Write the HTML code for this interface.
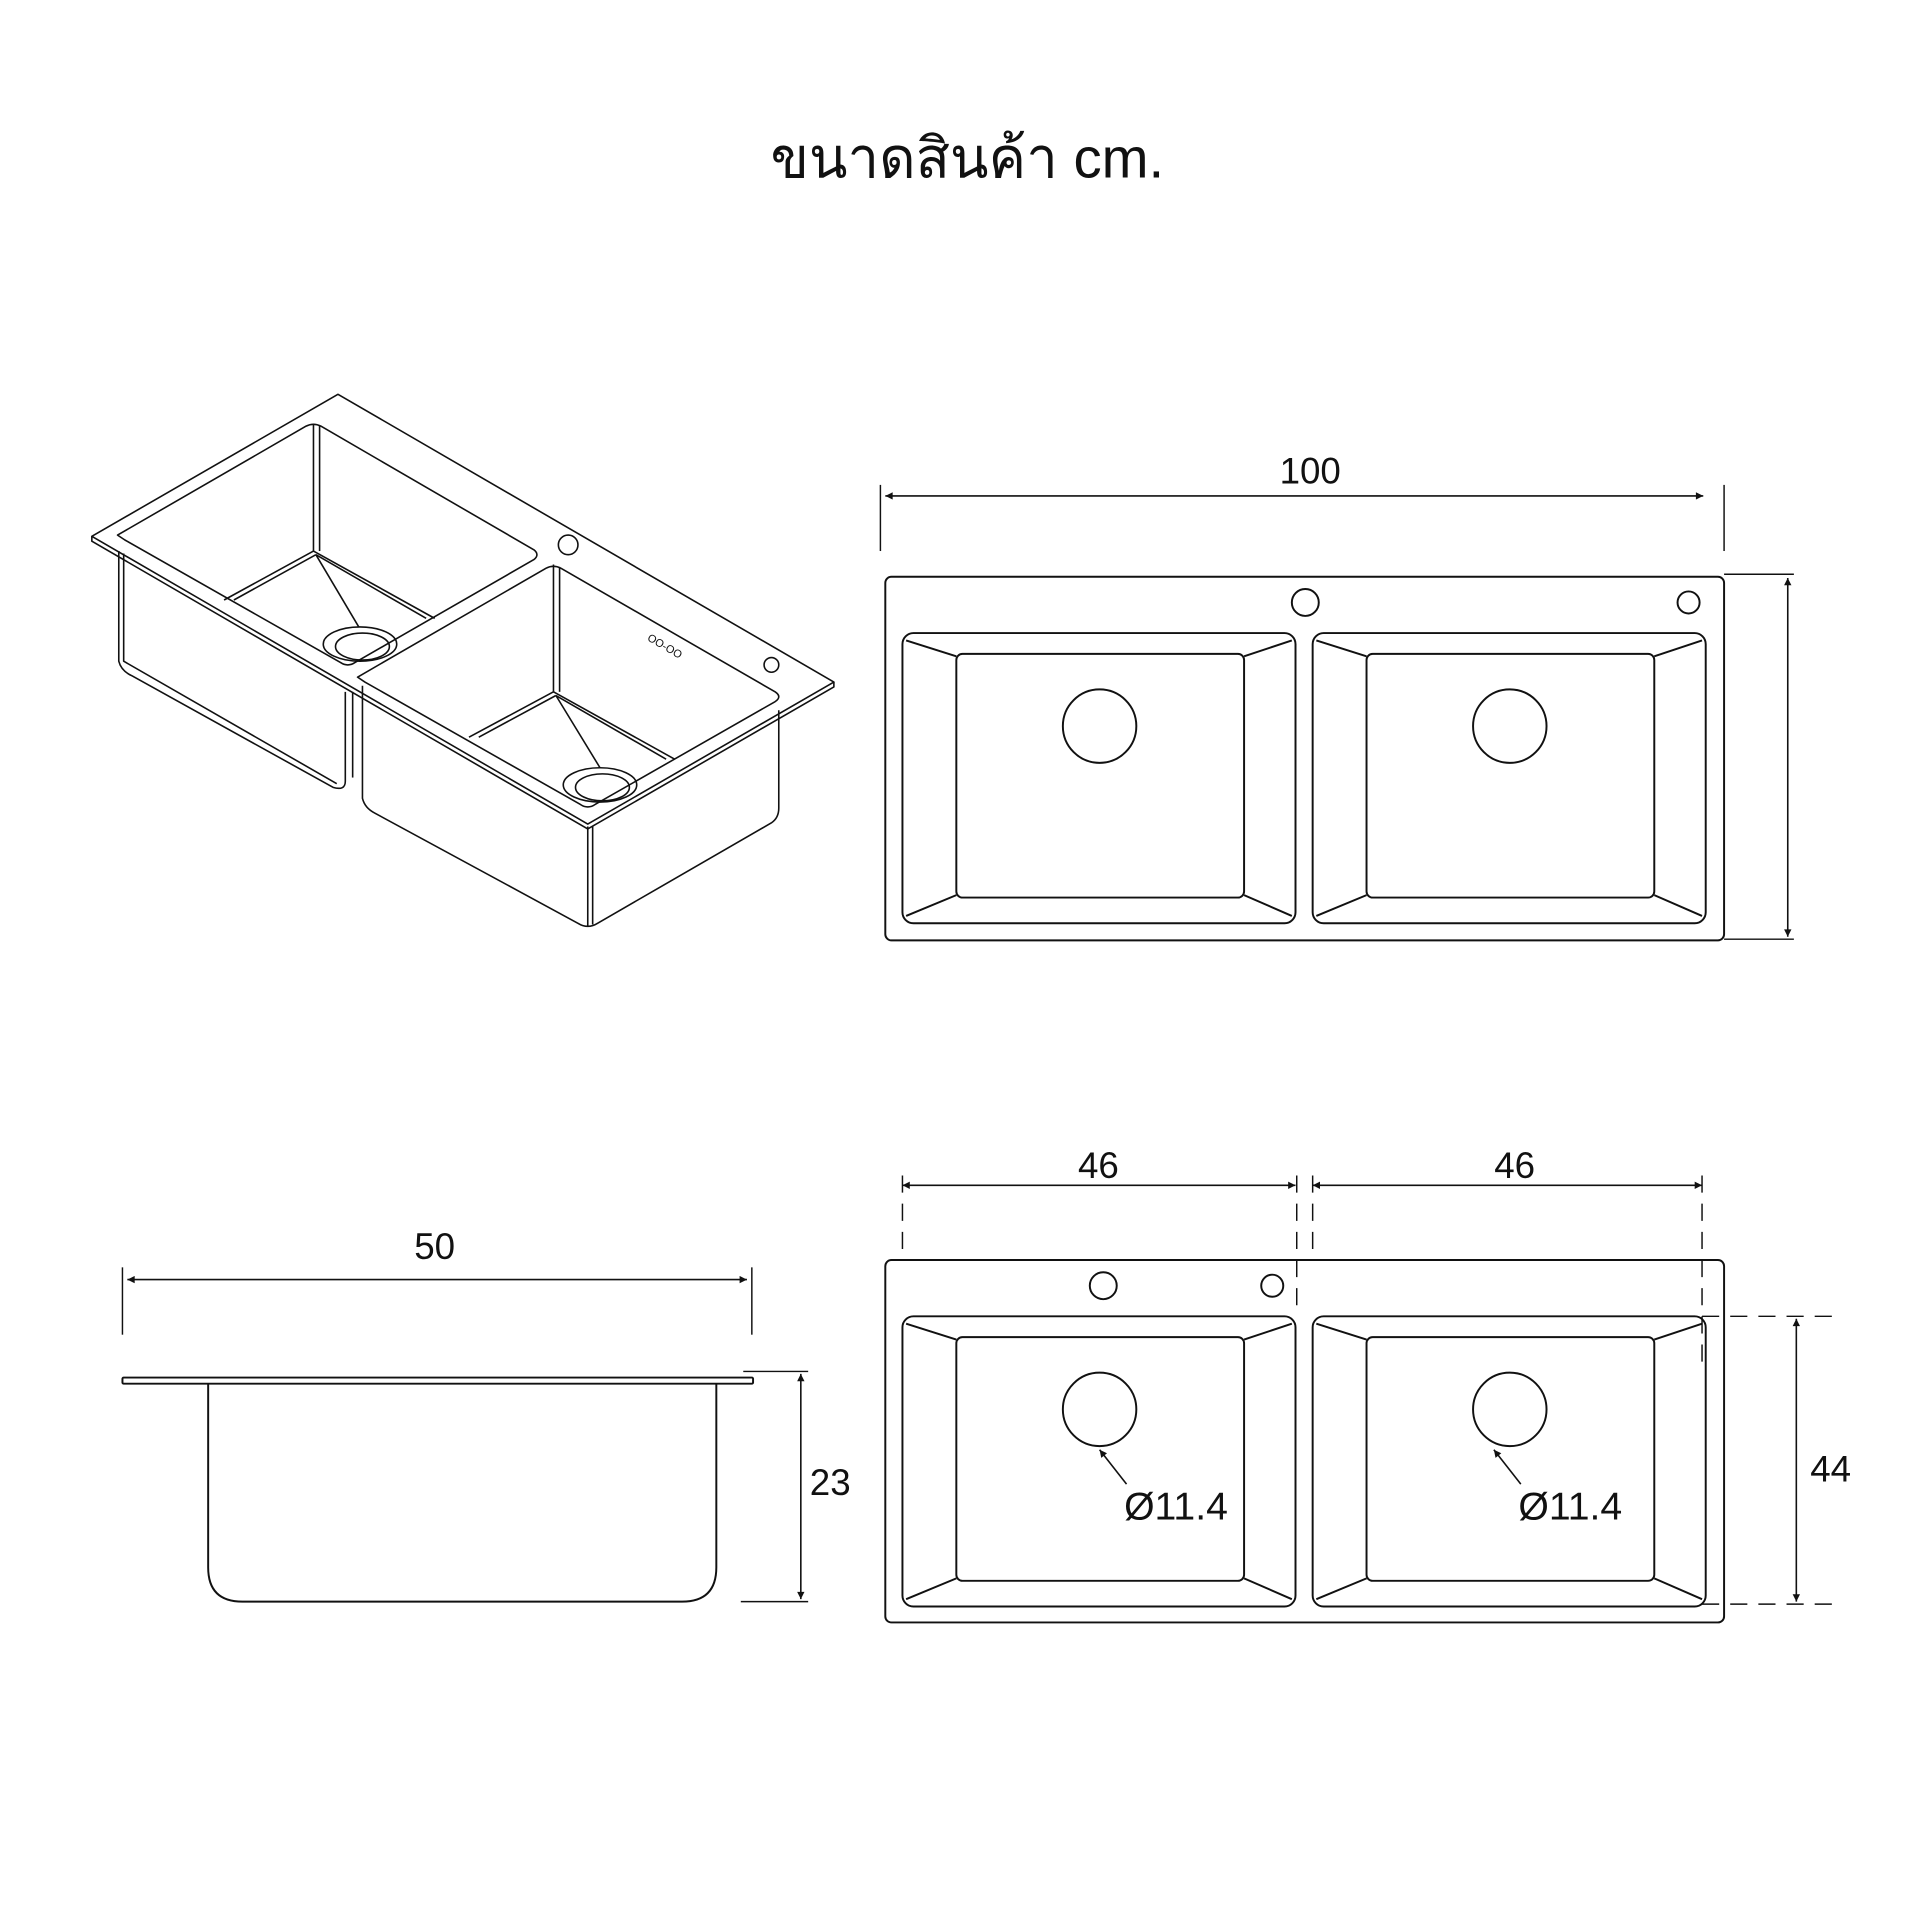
<!DOCTYPE html>
<html><head><meta charset="utf-8"><style>
html,body{margin:0;padding:0;background:#fff;}
svg{display:block;}
text{font-family:"Liberation Sans","DejaVu Sans",sans-serif;fill:#111;}
</style></head><body>
<svg width="1920" height="1920" viewBox="0 0 1568 1568" xmlns="http://www.w3.org/2000/svg">
<defs>
<marker id="a" viewBox="0 0 10 10" refX="10" refY="5" markerWidth="12" markerHeight="6" orient="auto-start-reverse" markerUnits="userSpaceOnUse"><path d="M0,0 L10,5 L0,10 z" fill="#111"/></marker>
<g id="bowl" fill="none" stroke="#111" stroke-width="1.6">
<rect x="0" y="0" width="321" height="237" rx="9"/>
<rect x="44" y="17" width="235" height="199" rx="5"/>
<line x1="3" y1="6" x2="44" y2="19"/><line x1="318" y1="6" x2="279" y2="19"/>
<line x1="3" y1="231" x2="44" y2="214"/><line x1="318" y1="231" x2="279" y2="214"/>
<ellipse cx="161" cy="76" rx="30" ry="30"/>
</g>
</defs>
<text x="790" y="145" font-size="46" text-anchor="middle" font-family="'Liberation Sans','DejaVu Sans','Noto Sans Thai',sans-serif">ขนาดสินค้า cm.</text>

<!-- Iso view -->
<g fill="none" stroke="#111" stroke-width="1.3" stroke-linejoin="round">
<path d="M276,322 L681,557 L480,673 L75,438 Z"/>
<path d="M75,438 L75,442 L480,677 L681,561 L681,557"/>
<path d="M96,437 L250,348 Q256,345 262,348 L436,449 Q441,453 436,457 L290,541 Q284,545 278,541 L102,441 Q96,437 96,437 Z"/>
<path d="M292,553 L446,464 Q452,461 458,464 L633,565 Q639,569 633,573 L486,657 Q480,661 474,657 L298,557 Z"/>
<line x1="256" y1="346" x2="256" y2="450"/><line x1="261" y1="348" x2="261" y2="450"/>
<line x1="256" y1="450" x2="183" y2="490"/><line x1="256" y1="450" x2="355" y2="505"/>
<line x1="191" y1="490" x2="258" y2="453"/><line x1="258" y1="453" x2="348" y2="505"/>
<line x1="258" y1="453" x2="293" y2="512"/>
<ellipse cx="294" cy="526" rx="30" ry="14"/><ellipse cx="296" cy="528" rx="22" ry="11"/>
<line x1="452" y1="461" x2="452" y2="565"/><line x1="457" y1="463" x2="457" y2="565"/>
<line x1="452" y1="565" x2="383" y2="602"/><line x1="452" y1="565" x2="551" y2="620"/>
<line x1="391" y1="602" x2="454" y2="568"/><line x1="454" y1="568" x2="544" y2="620"/>
<line x1="454" y1="568" x2="490" y2="627"/>
<ellipse cx="490" cy="641" rx="30" ry="14"/><ellipse cx="492" cy="643" rx="22" ry="11"/>
<circle cx="464" cy="445" r="8"/><circle cx="630" cy="543" r="6"/>
<path d="M97,450 L97,540 Q99,548 108,552 L272,643 Q282,646 282,638 L282,565"/>
<path d="M101,452 L101,540 L275,640"/>
<path d="M296,560 L296,652 Q298,660 306,664 L472,754 Q480,759 488,754 L630,672 Q636,668 636,660 L636,580"/>
<line x1="480" y1="675" x2="480" y2="757"/><line x1="484" y1="675" x2="484" y2="755"/>
<line x1="288" y1="565" x2="288" y2="635"/>
<text x="529" y="525" font-size="9" transform="rotate(30 533 522)" stroke="none">OO-OO</text>
</g>

<!-- Top view -->
<g fill="none" stroke="#111" stroke-width="1.6">
<rect x="723" y="471" width="685" height="297" rx="5"/>
<circle cx="1066" cy="492" r="11"/><circle cx="1379" cy="492" r="9"/>
<use href="#bowl" x="737" y="517"/><use href="#bowl" x="1072" y="517"/>
<line x1="719" y1="396" x2="719" y2="450" stroke-width="1.2"/>
<line x1="1408" y1="396" x2="1408" y2="450" stroke-width="1.2"/>
<line x1="723" y1="405" x2="1391" y2="405" stroke-width="1.3" marker-start="url(#a)" marker-end="url(#a)"/>
<line x1="1408" y1="469" x2="1465" y2="469" stroke-width="1.2"/>
<line x1="1408" y1="767" x2="1465" y2="767" stroke-width="1.2"/>
<line x1="1460" y1="472" x2="1460" y2="765" stroke-width="1.3" marker-start="url(#a)" marker-end="url(#a)"/>
</g>
<text x="1070" y="395" font-size="30" text-anchor="middle">100</text>

<!-- Bottom right view -->
<g fill="none" stroke="#111" stroke-width="1.6">
<rect x="723" y="1029" width="685" height="296" rx="5"/>
<circle cx="901" cy="1050" r="11"/><circle cx="1039" cy="1050" r="9"/>
<use href="#bowl" x="737" y="1075"/><use href="#bowl" x="1072" y="1075"/>
<g stroke-width="1.2" stroke-dasharray="14,9">
<line x1="737" y1="960" x2="737" y2="1020"/><line x1="1059" y1="960" x2="1059" y2="1070"/>
<line x1="1072" y1="960" x2="1072" y2="1025"/><line x1="1390" y1="960" x2="1390" y2="1112"/>
<line x1="1390" y1="1075" x2="1500" y2="1075"/><line x1="1390" y1="1310" x2="1500" y2="1310"/>
</g>
<line x1="737" y1="968" x2="1058" y2="968" stroke-width="1.3" marker-start="url(#a)" marker-end="url(#a)"/>
<line x1="1072" y1="968" x2="1390" y2="968" stroke-width="1.3" marker-start="url(#a)" marker-end="url(#a)"/>
<line x1="1467" y1="1077" x2="1467" y2="1308" stroke-width="1.3" marker-start="url(#a)" marker-end="url(#a)"/>
<line x1="920" y1="1212" x2="898" y2="1184" stroke-width="1.3" marker-end="url(#a)"/>
<line x1="1242" y1="1212" x2="1220" y2="1184" stroke-width="1.3" marker-end="url(#a)"/>
</g>
<text x="897" y="962" font-size="30" text-anchor="middle">46</text>
<text x="1237" y="962" font-size="30" text-anchor="middle">46</text>
<text x="1495" y="1210" font-size="30" text-anchor="middle">44</text>
<text x="918" y="1241" font-size="32">Ø11.4</text>
<text x="1240" y="1241" font-size="32">Ø11.4</text>

<!-- Side view -->
<g fill="none" stroke="#111" stroke-width="1.6">
<rect x="100" y="1125" width="515" height="5" rx="1"/>
<path d="M170,1130 L170,1280 Q170,1308 198,1308 L557,1308 Q585,1308 585,1280 L585,1130"/>
<line x1="100" y1="1035" x2="100" y2="1090" stroke-width="1.2"/>
<line x1="614" y1="1035" x2="614" y2="1090" stroke-width="1.2"/>
<line x1="104" y1="1045" x2="610" y2="1045" stroke-width="1.3" marker-start="url(#a)" marker-end="url(#a)"/>
<line x1="607" y1="1120" x2="660" y2="1120" stroke-width="1.2"/>
<line x1="605" y1="1308" x2="660" y2="1308" stroke-width="1.2"/>
<line x1="654" y1="1122" x2="654" y2="1306" stroke-width="1.3" marker-start="url(#a)" marker-end="url(#a)"/>
</g>
<text x="355" y="1028" font-size="30" text-anchor="middle">50</text>
<text x="678" y="1221" font-size="30" text-anchor="middle">23</text>
</svg>
</body></html>
